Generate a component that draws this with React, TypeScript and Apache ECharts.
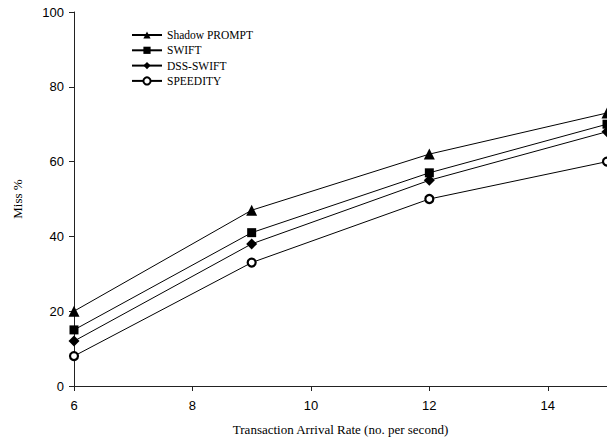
import React, { useEffect, useRef } from "react";
import * as echarts from "echarts";

const xValues = [6, 9, 12, 15];
const shadowPrompt = [20, 47, 62, 73];
const swift = [15, 41, 57, 70];
const dssSwift = [12, 38, 55, 68];
const speedity = [8, 33, 50, 60];

const seriesNames = ["Shadow PROMPT", "SWIFT", "DSS-SWIFT", "SPEEDITY"];

export default function App() {
  const ref = useRef<HTMLDivElement>(null);
  useEffect(() => {
    if (!ref.current) return;
    const chart = echarts.init(ref.current, null, { renderer: "svg" });
    const pair = (ys: number[]) => xValues.map((x, i) => [x, ys[i]]);
    const mk = (name: string, ys: number[], symbol: string, size: number, hollow = false) => ({
      name,
      type: "line",
      data: pair(ys),
      symbol,
      symbolSize: size,
      showSymbol: true,
      lineStyle: { color: "#000", width: 1 },
      itemStyle: hollow
        ? { color: "#fff", borderColor: "#000", borderWidth: 2.2 }
        : { color: "#000", borderColor: "#000", borderWidth: 0 },
      emphasis: { disabled: true },
      z: 3,
    });
    chart.setOption({
      animation: false,
      backgroundColor: "#fff",
      grid: { left: 74, right: 0, top: 12, bottom: 54, containLabel: false },
      legend: {
        orient: "vertical",
        left: 126,
        top: 24,
        itemWidth: 30,
        itemHeight: 9,
        itemGap: 3.3,
        data: seriesNames,
        textStyle: { fontFamily: "Liberation Serif", fontSize: 11.5, color: "#000" },
      },
      xAxis: {
        type: "value",
        min: 6,
        max: 15,
        interval: 2,
        name: "Transaction Arrival Rate (no. per second)",
        nameLocation: "middle",
        nameGap: 37,
        nameTextStyle: { fontFamily: "Liberation Serif", fontSize: 13, color: "#000" },
        axisLine: { show: true, lineStyle: { color: "#222", width: 1 } },
        axisTick: { show: true, length: 5, inside: false, lineStyle: { color: "#222" } },
        axisLabel: {
          margin: 13,
          fontFamily: "Liberation Sans",
          fontSize: 13,
          color: "#000",
          showMaxLabel: false,
          formatter: (v: number) => (v === 15 ? "" : String(v)),
        },
        splitLine: { show: false },
      },
      yAxis: {
        type: "value",
        min: 0,
        max: 100,
        interval: 20,
        name: "Miss %",
        nameLocation: "middle",
        nameGap: 50,
        nameRotate: 90,
        nameTextStyle: { fontFamily: "Liberation Serif", fontSize: 13, color: "#000" },
        axisLine: { show: true, lineStyle: { color: "#222", width: 1 } },
        axisTick: { show: true, length: 5, inside: false, lineStyle: { color: "#222" } },
        axisLabel: { margin: 10, fontFamily: "Liberation Sans", fontSize: 13, color: "#000" },
        splitLine: { show: false },
      },
      series: [
        mk(seriesNames[0], shadowPrompt, "triangle", 11),
        mk(seriesNames[1], swift, "rect", 9),
        mk(seriesNames[2], dssSwift, "diamond", 11),
        mk(seriesNames[3], speedity, "circle", 8, true),
      ],
    });
    return () => chart.dispose();
  }, []);
  return (
    <div
      ref={ref}
      style={{ position: "absolute", left: 0, top: 0, width: 607, height: 441 }}
    />
  );
}
